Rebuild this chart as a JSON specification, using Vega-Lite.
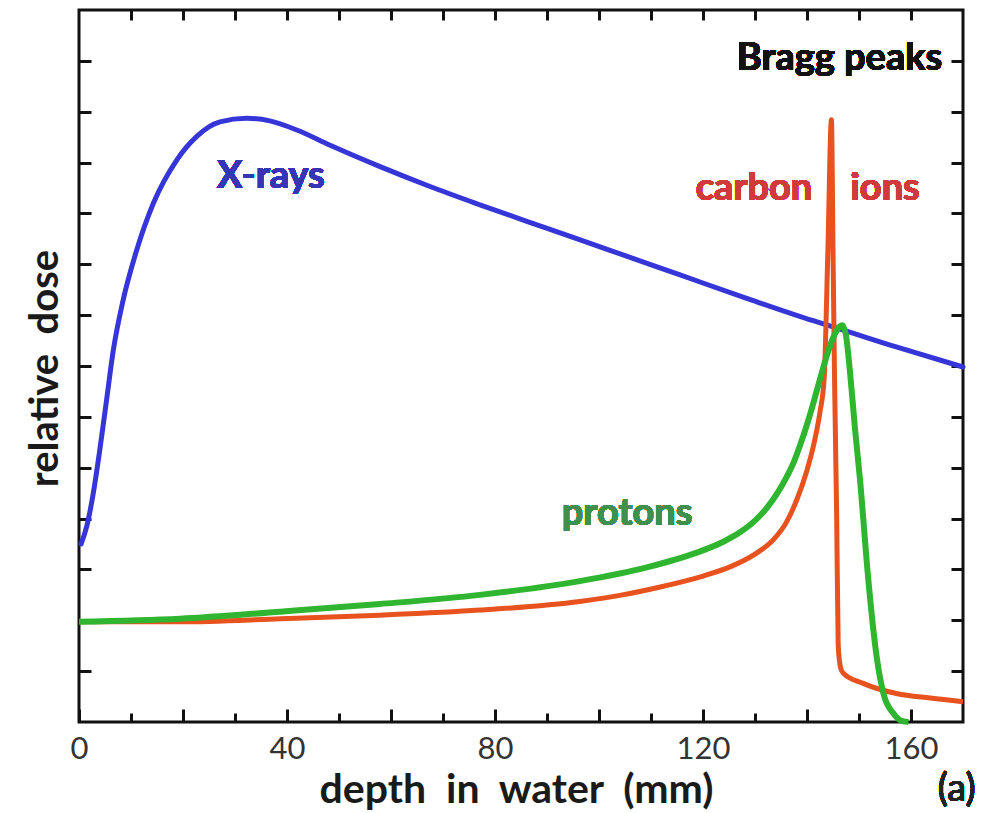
{
  "$schema": "https://vega.github.io/schema/vega-lite/v6.json",
  "width": 884,
  "height": 712,
  "autosize": {"type": "none"},
  "padding": {"left": 79, "top": 10, "right": 37, "bottom": 91},
  "background": "white",
  "config": {
    "view": {"stroke": "#111111", "strokeWidth": 3},
    "axis": {
      "domain": false,
      "grid": false,
      "labelFont": "Lato",
      "labelFontSize": 31,
      "labelColor": "#333333",
      "tickColor": "#111111",
      "tickWidth": 3,
      "titleFont": "Lato",
      "titleFontWeight": "bold",
      "titleFontSize": 40,
      "titleColor": "#1a1a1a"
    },
    "text": {"font": "Lato", "fontWeight": "bold", "fontSize": 38, "align": "center", "baseline": "alphabetic"}
  },
  "data": {
    "values": [
      {"series": "X-rays", "depth": 0.4, "dose": 3.5},
      {"series": "X-rays", "depth": 1.5, "dose": 3.85},
      {"series": "X-rays", "depth": 2.75, "dose": 4.5},
      {"series": "X-rays", "depth": 4.0, "dose": 5.35},
      {"series": "X-rays", "depth": 5.3, "dose": 6.33},
      {"series": "X-rays", "depth": 6.6, "dose": 7.31},
      {"series": "X-rays", "depth": 8.5, "dose": 8.3},
      {"series": "X-rays", "depth": 11.1, "dose": 9.28},
      {"series": "X-rays", "depth": 14.3, "dose": 10.2},
      {"series": "X-rays", "depth": 18.8, "dose": 11.05},
      {"series": "X-rays", "depth": 22.6, "dose": 11.51},
      {"series": "X-rays", "depth": 27.1, "dose": 11.8},
      {"series": "X-rays", "depth": 32.2, "dose": 11.87},
      {"series": "X-rays", "depth": 36.7, "dose": 11.82},
      {"series": "X-rays", "depth": 41.9, "dose": 11.64},
      {"series": "X-rays", "depth": 48.3, "dose": 11.34},
      {"series": "X-rays", "depth": 57.9, "dose": 10.92},
      {"series": "X-rays", "depth": 67.5, "dose": 10.53},
      {"series": "X-rays", "depth": 77.1, "dose": 10.17},
      {"series": "X-rays", "depth": 89.9, "dose": 9.71},
      {"series": "X-rays", "depth": 102.8, "dose": 9.25},
      {"series": "X-rays", "depth": 115.6, "dose": 8.79},
      {"series": "X-rays", "depth": 128.4, "dose": 8.33},
      {"series": "X-rays", "depth": 141.2, "dose": 7.89},
      {"series": "X-rays", "depth": 144.4, "dose": 7.79},
      {"series": "X-rays", "depth": 157.0, "dose": 7.38},
      {"series": "X-rays", "depth": 170.0, "dose": 6.98},

      {"series": "carbon ions", "depth": 0.0, "dose": 1.97},
      {"series": "carbon ions", "depth": 19.4, "dose": 1.97},
      {"series": "carbon ions", "depth": 38.7, "dose": 2.03},
      {"series": "carbon ions", "depth": 57.9, "dose": 2.1},
      {"series": "carbon ions", "depth": 77.1, "dose": 2.2},
      {"series": "carbon ions", "depth": 96.3, "dose": 2.37},
      {"series": "carbon ions", "depth": 104.0, "dose": 2.49},
      {"series": "carbon ions", "depth": 112.4, "dose": 2.67},
      {"series": "carbon ions", "depth": 120.0, "dose": 2.87},
      {"series": "carbon ions", "depth": 125.2, "dose": 3.05},
      {"series": "carbon ions", "depth": 130.0, "dose": 3.3},
      {"series": "carbon ions", "depth": 133.5, "dose": 3.58},
      {"series": "carbon ions", "depth": 136.0, "dose": 3.92},
      {"series": "carbon ions", "depth": 138.0, "dose": 4.36},
      {"series": "carbon ions", "depth": 140.0, "dose": 4.95},
      {"series": "carbon ions", "depth": 141.5, "dose": 5.55},
      {"series": "carbon ions", "depth": 142.5, "dose": 6.1},
      {"series": "carbon ions", "depth": 143.3, "dose": 6.75},
      {"series": "carbon ions", "depth": 144.0, "dose": 9.2},
      {"series": "carbon ions", "depth": 144.7, "dose": 11.84},
      {"series": "carbon ions", "depth": 145.0, "dose": 9.3},
      {"series": "carbon ions", "depth": 145.3, "dose": 6.72},
      {"series": "carbon ions", "depth": 145.7, "dose": 4.1},
      {"series": "carbon ions", "depth": 146.0, "dose": 1.5},
      {"series": "carbon ions", "depth": 146.5, "dose": 1.05},
      {"series": "carbon ions", "depth": 147.0, "dose": 0.96},
      {"series": "carbon ions", "depth": 150.8, "dose": 0.76},
      {"series": "carbon ions", "depth": 157.2, "dose": 0.56},
      {"series": "carbon ions", "depth": 163.7, "dose": 0.47},
      {"series": "carbon ions", "depth": 170.0, "dose": 0.4},

      {"series": "protons", "depth": 0.0, "dose": 1.97},
      {"series": "protons", "depth": 19.4, "dose": 2.03},
      {"series": "protons", "depth": 38.7, "dose": 2.17},
      {"series": "protons", "depth": 57.9, "dose": 2.32},
      {"series": "protons", "depth": 77.1, "dose": 2.5},
      {"series": "protons", "depth": 96.3, "dose": 2.77},
      {"series": "protons", "depth": 109.2, "dose": 3.04},
      {"series": "protons", "depth": 118.8, "dose": 3.33},
      {"series": "protons", "depth": 124.0, "dose": 3.55},
      {"series": "protons", "depth": 127.1, "dose": 3.73},
      {"series": "protons", "depth": 130.0, "dose": 3.96},
      {"series": "protons", "depth": 132.2, "dose": 4.2},
      {"series": "protons", "depth": 134.3, "dose": 4.5},
      {"series": "protons", "depth": 136.1, "dose": 4.82},
      {"series": "protons", "depth": 137.5, "dose": 5.12},
      {"series": "protons", "depth": 138.7, "dose": 5.45},
      {"series": "protons", "depth": 140.0, "dose": 5.85},
      {"series": "protons", "depth": 141.3, "dose": 6.3},
      {"series": "protons", "depth": 142.6, "dose": 6.78},
      {"series": "protons", "depth": 143.8, "dose": 7.2},
      {"series": "protons", "depth": 145.0, "dose": 7.55},
      {"series": "protons", "depth": 146.0, "dose": 7.74},
      {"series": "protons", "depth": 146.8, "dose": 7.8},
      {"series": "protons", "depth": 147.5, "dose": 7.6},
      {"series": "protons", "depth": 148.3, "dose": 6.85},
      {"series": "protons", "depth": 149.2, "dose": 5.8},
      {"series": "protons", "depth": 150.2, "dose": 4.76},
      {"series": "protons", "depth": 151.8, "dose": 2.79},
      {"series": "protons", "depth": 153.4, "dose": 1.28},
      {"series": "protons", "depth": 154.7, "dose": 0.56},
      {"series": "protons", "depth": 156.6, "dose": 0.17},
      {"series": "protons", "depth": 158.0, "dose": 0.03},
      {"series": "protons", "depth": 159.5, "dose": 0.0}
    ]
  },
  "layer": [
    {
      "transform": [{"filter": "datum.series == 'X-rays'"}],
      "mark": {"type": "line", "color": "#3636d8", "strokeWidth": 5, "interpolate": "monotone", "strokeCap": "round"},
      "encoding": {
        "x": {
          "field": "depth", "type": "quantitative",
          "scale": {"domain": [0, 170], "nice": false, "zero": false},
          "axis": {
            "orient": "bottom",
            "title": "depth\u00a0\u00a0in\u00a0\u00a0water\u00a0\u00a0(mm)",
            "values": [0, 10, 20, 30, 40, 50, 60, 70, 80, 90, 100, 110, 120, 130, 140, 150, 160],
            "tickSize": {"condition": {"test": "datum.value % 20 == 0", "value": -13}, "value": -9},
            "labelExpr": "datum.value % 40 == 0 ? datum.label : ''",
            "labelPadding": 25,
            "labelFlush": false,
            "labelOverlap": false,
            "titleAlign": "center",
            "titleBaseline": "alphabetic",
            "titleFontSize": 41,
            "titleX": 437,
            "titleY": 80
          }
        },
        "y": {
          "field": "dose", "type": "quantitative",
          "scale": {"domain": [0, 14], "nice": false, "zero": false},
          "axis": {
            "orient": "left",
            "title": "relative\u00a0\u00a0dose",
            "values": [1, 2, 3, 4, 5, 6, 7, 8, 9, 10, 11, 12, 13],
            "tickSize": -12,
            "labels": false,
            "titleAngle": -90,
            "titleAlign": "center",
            "titleBaseline": "middle",
            "titleX": -34,
            "titleY": 358
          }
        }
      }
    },
    {
      "transform": [{"filter": "datum.series == 'carbon ions'"}],
      "mark": {"type": "line", "color": "#e8521f", "strokeWidth": 5, "interpolate": "monotone", "strokeJoin": "round"},
      "encoding": {
        "x": {
          "field": "depth", "type": "quantitative",
          "axis": {
            "orient": "top",
            "title": null,
            "values": [10, 20, 30, 40, 50, 60, 70, 80, 90, 100, 110, 120, 130, 140, 150, 160],
            "tickSize": -10,
            "labels": false
          }
        },
        "y": {
          "field": "dose", "type": "quantitative",
          "axis": {
            "orient": "right",
            "title": null,
            "values": [1, 2, 3, 4, 5, 6, 7, 8, 9, 10, 11, 12, 13],
            "tickSize": -12,
            "labels": false
          }
        }
      }
    },
    {
      "transform": [{"filter": "datum.series == 'protons'"}],
      "mark": {"type": "line", "color": "#2fb52f", "strokeWidth": 6, "interpolate": "monotone", "strokeJoin": "round"},
      "encoding": {
        "x": {"field": "depth", "type": "quantitative", "axis": null},
        "y": {"field": "dose", "type": "quantitative", "axis": null}
      }
    },
    {
      "mark": {"type": "text", "text": "X-rays", "color": "#3535b5"},
      "encoding": {"x": {"datum": 36.9, "type": "quantitative", "axis": null}, "y": {"datum": 10.5, "type": "quantitative", "axis": null}}
    },
    {
      "mark": {"type": "text", "text": "carbon", "color": "#d03a3a"},
      "encoding": {"x": {"datum": 129.8, "type": "quantitative", "axis": null}, "y": {"datum": 10.26, "type": "quantitative", "axis": null}}
    },
    {
      "mark": {"type": "text", "text": "ions", "color": "#d03a3a"},
      "encoding": {"x": {"datum": 155.0, "type": "quantitative", "axis": null}, "y": {"datum": 10.26, "type": "quantitative", "axis": null}}
    },
    {
      "mark": {"type": "text", "text": "protons", "color": "#3f8f4f"},
      "encoding": {"x": {"datum": 105.4, "type": "quantitative", "axis": null}, "y": {"datum": 3.87, "type": "quantitative", "axis": null}}
    },
    {
      "mark": {"type": "text", "text": "Bragg peaks", "color": "#111111", "align": "right"},
      "encoding": {"x": {"datum": 166.0, "type": "quantitative", "axis": null}, "y": {"datum": 12.82, "type": "quantitative", "axis": null}}
    },
    {
      "mark": {"type": "text", "text": "(a)", "color": "#222222", "fontWeight": "normal", "fontSize": 38},
      "encoding": {"x": {"datum": 168.8, "type": "quantitative", "axis": null}, "y": {"datum": -1.55, "type": "quantitative", "axis": null}}
    }
  ],
  "resolve": {"axis": {"x": "independent", "y": "independent"}}
}
